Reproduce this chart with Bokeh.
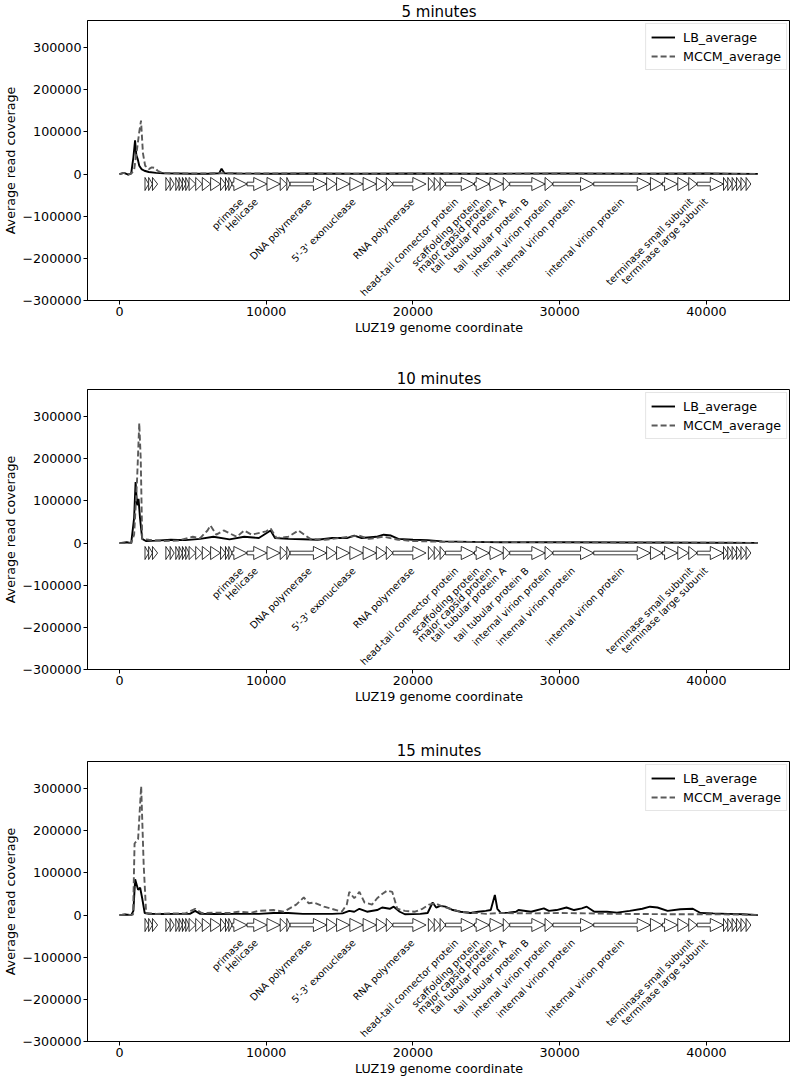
from bokeh.plotting import figure
from bokeh.models import FixedTicker, CustomJSTickFormatter
from bokeh.layouts import column
from bokeh.embed import file_html
from bokeh.resources import INLINE
from bokeh.core.properties import value

FONT = "DejaVu Sans"

# ---------------- data ----------------
titles = ["5 minutes", "10 minutes", "15 minutes"]

# (genome coordinate, average read coverage)
lb5_pts = [(0, 0), (300, 3000), (600, -1000), (800, 2000), (950, 40000), (1064, 80000), (1150, 45000),
           (1250, 35000), (1350, 20000), (1500, 12000), (1700, 8000), (2000, 5000), (2500, 3000), (3000, 2000),
           (4000, 1500), (5000, 1000), (6000, 1000), (6800, 2000), (6958, 13000), (7150, 2000), (8000, 1500),
           (10000, 1000), (13000, 1500), (16000, 1000), (20000, 1500), (25000, 1000), (30000, 1500),
           (35000, 1000), (40000, 1500), (43500, 500)]
mccm5_pts = [(0, 0), (300, 3000), (600, -1000), (800, 1000), (1000, 10000), (1200, 60000), (1350, 100000),
             (1470, 127000), (1600, 50000), (1750, 20000), (2000, 12000), (2200, 16000), (2400, 15000),
             (2600, 8000), (2900, 3000), (3500, 2000), (5000, 1500), (7000, 2000), (10000, 1500), (15000, 1000),
             (20000, 1000), (25000, 800), (30000, 800), (35000, 800), (40000, 800), (43500, 500)]

lb10_pts = [(0, 0), (500, 2000), (800, 0), (1000, 60000), (1100, 145000), (1200, 90000), (1300, 105000),
            (1400, 60000), (1550, 10000), (1800, 5000), (2500, 6000), (3500, 8000), (4500, 7000), (5500, 10000),
            (6400, 15000), (7500, 9000), (8500, 15000), (9500, 12000), (10300, 30000), (10600, 12000),
            (11500, 10000), (12500, 9000), (13500, 8000), (14500, 12000), (15500, 12000), (16000, 18000),
            (16500, 12000), (17500, 15000), (18000, 20000), (18500, 18000), (19000, 10000), (20000, 8000),
            (21000, 7000), (22000, 4000), (24000, 3000), (26000, 2000), (30000, 2000), (35000, 1500),
            (40000, 1000), (43500, 500)]
mccm10_pts = [(0, 0), (800, 0), (1000, 20000), (1200, 150000), (1350, 285000), (1450, 200000), (1550, 10000),
              (2000, 8000), (3000, 5000), (4000, 6000), (5000, 15000), (5500, 12000), (6000, 30000),
              (6200, 42000), (6600, 20000), (7100, 30000), (8000, 15000), (8500, 30000), (9000, 20000),
              (10000, 28000), (10300, 35000), (10700, 12000), (11500, 15000), (12200, 30000), (13000, 10000),
              (14000, 8000), (15000, 12000), (16300, 18000), (17000, 10000), (18000, 15000), (19000, 8000),
              (20000, 5000), (22000, 3000), (25000, 3000), (30000, 2000), (35000, 1500), (40000, 1000),
              (43500, 500)]

lb15_pts = [(0, 0), (400, 1500), (800, 0), (950, 10000), (1070, 85000), (1270, 60000), (1410, 65000),
            (1550, 40000), (1720, 5000), (2000, 3000), (3000, 2500), (4000, 3000), (4800, 3000), (5160, 10000),
            (5500, 3000), (6500, 2500), (8000, 3000), (9500, 3000), (10500, 5000), (11500, 5000), (12500, 3000),
            (13500, 3000), (14500, 3000), (15200, 4000), (15660, 10000), (16000, 8000), (16350, 15000),
            (16870, 8000), (17560, 12000), (17900, 18000), (18420, 15000), (18690, 20000), (19100, 8000),
            (19450, 2000), (20500, 3000), (21000, 5000), (21340, 30000), (21580, 18000), (21860, 22000),
            (22200, 20000), (22720, 12000), (23240, 8000), (23920, 5000), (24440, 8000), (24960, 10000),
            (25300, 12000), (25580, 48000), (25750, 15000), (25990, 5000), (26500, 6000), (27020, 8000),
            (27190, 12000), (28050, 8000), (28920, 16000), (29260, 10000), (29780, 12000), (30460, 18000),
            (30980, 12000), (31500, 16000), (31840, 20000), (32360, 8000), (33220, 8000), (33900, 6000),
            (34770, 10000), (35630, 15000), (36150, 20000), (36660, 18000), (37350, 10000), (38210, 14000),
            (39070, 15000), (39590, 5000), (40450, 4000), (41480, 3000), (42510, 2000), (43500, 0)]
mccm15_pts = [(0, 0), (400, 1500), (800, 0), (930, 2000), (1030, 170000), (1270, 180000), (1480, 306000),
              (1650, 120000), (1820, 5000), (2500, 3000), (3500, 4000), (4500, 4000), (5160, 15000),
              (5600, 5000), (6500, 6000), (7500, 5000), (8100, 8000), (9000, 6000), (9500, 10000),
              (10500, 12000), (11200, 8000), (12050, 25000), (12560, 42000), (12900, 28000), (13250, 30000),
              (13940, 20000), (14460, 15000), (15150, 8000), (15490, 25000), (15660, 55000), (16000, 40000),
              (16350, 55000), (16700, 30000), (17210, 25000), (17560, 40000), (17900, 50000), (18240, 58000),
              (18590, 55000), (18930, 15000), (19450, 10000), (20140, 8000), (20650, 15000), (21100, 25000),
              (21510, 28000), (22030, 20000), (22550, 15000), (23240, 8000), (24270, 5000), (25000, 3000),
              (26000, 5000), (28000, 4000), (30000, 5000), (32000, 4000), (34000, 3000), (36000, 2500),
              (38000, 2000), (40000, 2000), (42000, 1500), (43500, 500)]

series = [(lb5_pts, mccm5_pts), (lb10_pts, mccm10_pts), (lb15_pts, mccm15_pts)]

gene_starts = [1740, 1990, 2250, 3162, 3456, 3839, 4065, 4291, 4517, 4743, 5195, 5646, 6211, 6888, 7227, 7453,
               7679, 8695, 10050, 10954, 11405, 11631, 14116, 14793, 15696, 16600, 17503, 18181, 18633, 21050,
               21450, 21850, 22223, 24190, 25205, 26153, 26594, 28999, 29541, 32319, 36181, 36994, 38044, 38790,
               39366, 41161, 41450, 41750, 42050, 42350, 42700]
gene_ends = [1990, 2250, 2600, 3456, 3727, 4065, 4291, 4517, 4743, 5195, 5646, 6211, 6888, 7227, 7453, 7679,
             8695, 10050, 10954, 11405, 11631, 14116, 14793, 15696, 16600, 17503, 18181, 18633, 20891, 21450,
             21850, 22223, 24190, 25205, 26153, 26594, 28999, 29541, 32319, 36181, 36994, 38044, 38790, 39366,
             41161, 41450, 41750, 42050, 42350, 42700, 43026]

label_names = ["primase", "Helicase", "DNA polymerase", "5'-3' exonuclease", "RNA polymerase",
               "head-tail connector protein", "scaffolding protein", "major capsid protein",
               "tail tubular protein A", "tail tubular protein B", "internal virion protein",
               "internal virion protein", "internal virion protein", "terminase small subunit",
               "terminase large subunit"]
label_pos = [8050, 9050, 12700, 15700, 19700, 22700, 24150, 25000, 25950, 27500, 29000, 30650, 34000, 38700, 39700]

x_ticks = [0, 10000, 20000, 30000, 40000]
y_ticks = [-300000, -200000, -100000, 0, 100000, 200000, 300000]

# ---------------- geometry / style ----------------
ARROW_C = -23500
HEAD_HALF = 15500
SHAFT_HALF = 4300
HEAD_LEN = 900
LABEL_Y = -52000


def arrow_polys():
    xs, ys = [], []
    for s, e in zip(gene_starts, gene_ends):
        L = e - s
        if L <= HEAD_LEN:
            xs.append([s, e, s])
            ys.append([ARROW_C + HEAD_HALF, ARROW_C, ARROW_C - HEAD_HALF])
        else:
            b = e - HEAD_LEN
            xs.append([s, b, b, e, b, b, s])
            ys.append([ARROW_C + SHAFT_HALF, ARROW_C + SHAFT_HALF, ARROW_C + HEAD_HALF, ARROW_C,
                       ARROW_C - HEAD_HALF, ARROW_C - SHAFT_HALF, ARROW_C - SHAFT_HALF])
    return xs, ys


def make_panel(title, lb_pts, mc_pts, top, bottom, standoff):
    p = figure(frame_width=703, frame_height=280, x_range=(-2177, 45725), y_range=(-300000, 364600),
               output_backend="svg", toolbar_location=None,
               min_border_left=81, min_border_right=0, min_border_top=top, min_border_bottom=bottom)
    p.title.text = title
    p.title.align = "center"
    p.title.text_font = FONT
    p.title.text_font_size = "15px"
    p.title.text_font_style = "normal"
    p.title.text_color = "black"
    p.title.standoff = standoff

    p.xgrid.visible = False
    p.ygrid.visible = False
    p.outline_line_color = "black"
    p.outline_line_width = 1
    p.outline_line_alpha = 1

    for ax in (p.xaxis[0], p.yaxis[0]):
        ax.major_label_text_font = FONT
        ax.major_label_text_font_size = "12.7px"
        ax.major_label_text_color = "black"
        ax.axis_label_text_font = FONT
        ax.axis_label_text_font_size = "12.7px"
        ax.axis_label_text_font_style = "normal"
        ax.axis_label_text_color = "black"
        ax.major_tick_in = 0
        ax.major_tick_out = 4
        ax.minor_tick_line_color = None
        ax.axis_line_color = "black"
        ax.major_tick_line_color = "black"
        ax.major_label_standoff = 2
        ax.axis_label_standoff = 1

    p.xaxis.ticker = FixedTicker(ticks=x_ticks)
    p.yaxis.ticker = FixedTicker(ticks=y_ticks)
    p.yaxis.formatter = CustomJSTickFormatter(code="return (tick < 0 ? '\\u2212' : '') + Math.abs(tick).toFixed(0);")
    p.xaxis.axis_label = "LUZ19 genome coordinate"
    p.yaxis.axis_label = "Average read coverage"

    lbx, lby = zip(*lb_pts)
    mcx, mcy = zip(*mc_pts)
    p.line(list(lbx), list(lby), line_color="black", line_width=1.9, legend_label="LB_average")
    p.line(list(mcx), list(mcy), line_color="#5a5a5a", line_width=1.9, line_dash="6 3",
           legend_label="MCCM_average")

    xs, ys = arrow_polys()
    p.patches(xs, ys, fill_color="white", line_color="black", line_width=0.8)

    p.text(x=label_pos, y=[LABEL_Y] * len(label_pos), text=label_names, angle=0.785398,
           text_align="right", text_baseline="top", text_font=value(FONT),
           text_font_size="9.8px", text_color="black")

    lg = p.legend[0]
    lg.location = "top_right"
    lg.label_text_font = FONT
    lg.label_text_font_size = "12.7px"
    lg.label_text_color = "black"
    lg.border_line_color = "#cccccc"
    lg.border_line_width = 1
    lg.glyph_width = 24
    lg.glyph_height = 16
    lg.label_height = 16
    lg.spacing = 3
    lg.padding = 5
    lg.margin = 3
    lg.label_standoff = 8
    return p


tops = [0, 20, 20]
bottoms = [65, 68, 43]
standoffs = [0, 4, 4]
figs = [make_panel(titles[i], series[i][0], series[i][1], tops[i], bottoms[i], standoffs[i]) for i in range(3)]
layout = column(*figs, spacing=0)

open("out.html", "w").write(file_html(layout, INLINE))
